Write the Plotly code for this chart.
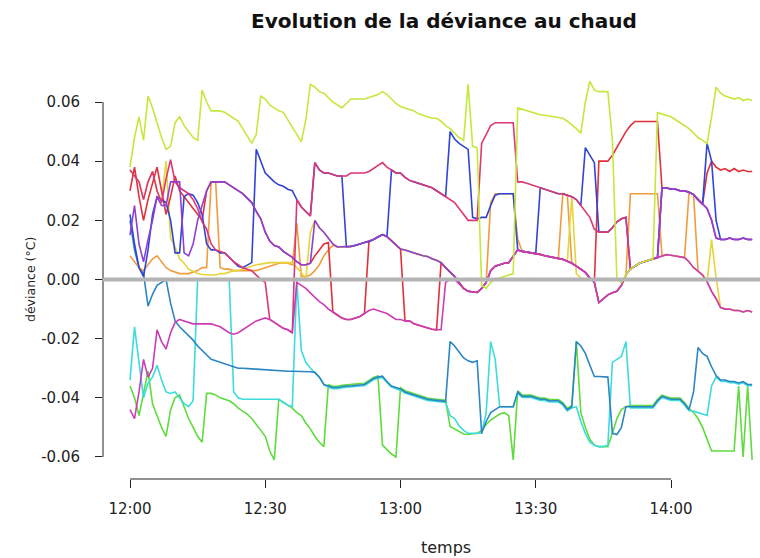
import plotly.graph_objects as go

# Sampling times: minutes after 12:00, one reading per minute
minutes = list(range(139))

# Deviation of each probe from the bath mean, in thousandths of a degree
yellowgreen = [38,48,55,47,62,58,53,48,44,45, 53,55,52,50,48,47,64,60,57,57,
               57,56.5,55.5,54.5,53.5,51,48.5,46,49,62, 61,59,58,57,56.5,54,51.5,49,46.5,54,
               66,65,63.5,63,61.5,60,59,58,59.5,61, 61,61,61,61.5,62,62.5,63.5,62.5,61,59.5,
               58.5,58,57.5,57,56,55.5,55,54.5,54.5,53.5, 52,51,49.5,48,47,66,45,44.5,-2,-3,
               -1,0,0.5,1,1.5,2,58,57.5,57,56.5, 56,55.7,55.5,55.3,55,54.8,54.5,53.5,52.4,51,
               49.5,60,67,64,63.5,63.5,63.5,47,0,-1, 1.5,3.5,4.5,5.5,6,6.5,7,56.4,56,55.5,
               55,54,53,52,51,49.5,48,47,46,55, 65,63,62,61.5,61,61.5,60.5,61,60.5]
rose = [37,35,33,27,33,36.5,30,26,34,40.5, 33,31,30,29,27,24,19.5,17,12,10,
        9.5,9,7.5,6,5,4,3.5,3,1.5,0, -1,-13.5,-14.5,-15.5,-16.5,-17,-18,27,24.5,23,
        21.5,39.5,37,36,36,35.5,35,35,35,36, 36,36,36,36.5,37.5,38.5,39.5,38,37,36,
        36,34.5,33.5,33,32.5,32,31.5,31,30,29, 28,27,26,24,22,20,20,20,46,49,
        52,53,53,53,53,53,33,33,32.5,32, 31.5,31,30.5,30,29.5,29,29,28.5,28,27,
        25,23,21,17,16,16,16,17.5,19.5,20.5, 21,3.5,4.5,5.5,6,6.5,7,7.4,31,31,
        30.5,30.5,30,30,29.5,28.7,27,25.5,24,20, 14,13.5,13.5,14,13.5,13.5,14,13.5,13.5]
blue = [22,12,4,1,10,22,28,27,26,20, 9,9,28,29,28.5,26,22,12,10,10,
        9,9,7.5,6,4.5,4,5,5.7,44,40, 36,34.5,33,32,31.5,30.5,30,27,24.5,23,
        21.5,39.5,37,36,36,35.5,35,35,11,11.2, 11.5,12,12.5,12.8,13.5,14.5,15.2,14.5,37,36,
        36,34.5,33.5,33,32.5,32,31.5,31,30,29, 28,50,47.5,46,45,44,21,20.5,21,21,
        25,28.5,29,29,29,29,10,9.5,9.3,9, 8.8,31,30.5,30,29.5,29,29,28.5,28,27,
        25,44.6,42,39.5,16,16,16,17.5,19.5,20.5, 21,3.5,4.5,5.5,6,6.5,7,7.4,31,31,
        30.5,30.5,30,30,29.5,28.7,27,25.5,46,40, 20,13.5,13.5,14,13.5,13.5,14,13.5,13.5]
purple = [15,25,12,6,13.5,20,28,25,25,33, 33,33,9,8,12,20,25,30,33,33,
          33,33,32,31,30,29,27.5,26,23,20.5, 16,13,11.5,11,9.5,8.5,7.5,6,5,5,
          5.5,20,17.5,16,14,12,11,11,11,11.2, 11.5,12,12.5,12.8,13.5,14.5,15.2,14.5,13,11.5,
          10.3,10,9.5,9,8.5,8,7.8,7,6.5,5.7, 4,2.5,1,-1,-3,-4,-4.2,-4.4,-3,-1,
          3,4.5,5,5.5,5.7,8,10,9.5,9.3,9, 8.8,8.5,8,7.7,7.4,7,6.8,6.2,5.5,4.5,
          3.5,2.4,0.5,-1,-7.8,-6.5,-5.2,-4.5,-4,-2, 1.5,3.5,4.5,5.5,6,6.5,7,7.4,31,31,
          30.5,30.5,30,30,29.5,28.7,27,25.5,24,20, 14,13.5,13.5,14,13.5,13.5,14,13.5,13.5]
magenta = [-44,-47,-38,-27,-33,-30,-17,-21,-23.5,-18, -14.5,-13.5,-14,-14.5,-15,-15,-15,-15,-15,-15.5,
           -16,-17,-18,-18.5,-18,-17,-16,-15,-14,-13.5, -13,-13.5,-14.5,-15.5,-16.5,-17,-18,-1,-2,-3,
           -4.5,-6,-7.5,-8.5,-10,-11,-12,-13,-13.5,-13.5, -13,-12.5,-11.5,-10.5,-10,-10.5,-10.8,-11.5,-12.5,-13.5,
           -13.5,-14,-14,-15,-15.5,-16,-16.5,-16.8,-17,-17, -1,0,0,-1.5,-3,-4,-4.2,-4.4,-3,-1,
           3,4.5,5,5.5,5.7,8,10,9.5,9.3,9, 8.8,8.5,8,7.7,7.4,7,6.8,6.2,5.5,4.5,
           3.5,2.4,0.5,-1,-7.8,-6.5,-5.2,-4.5,-4,-2, 1.5,3.5,4.5,5.5,6,6.5,7,7.4,8,8.4,
           8.2,8,7.6,7.4,6,4,2.8,1.5,-0.7,-4, -6.5,-9.5,-10,-10,-10.5,-10.5,-11,-10.5,-11]
orange = [8,6,4,3,5,7,8,6,4,3, 2.5,2,2,2,2.5,3,4,4,33,33,
          4,3.5,3.5,3,3,3,3,3,3,3.5, 4,4.5,5,5.5,5.7,5.5,5,19,1,1,
          1.5,3,5,8,10,11.5,11,11,11,11.2, 11.5,12,12.5,12.8,13.5,14.5,15.2,14.5,13,11.5,
          10.3,10,9.5,9,8.5,8,7.8,7,6.5,5.7, 4,2.5,1,-1,-3,-4,-4.2,-4.4,-3,-1,
          26,29,29,29,29,29,13.5,9.5,9.3,9, 8.8,8.5,8,7.7,7.4,7,29,28.5,5.5,4.5,
          3.5,2.4,0.5,-1,-7.8,-6.5,-5.2,-4.5,-4,-2, 1.5,29,29,29,29,29,29,29,8,8.4,
          8.2,8,7.6,7.4,29.5,28.7,2.8,1.5,-0.7,-4, -6.5,-9.5,-10,-10,-10.5,-10.5,-11,-10.5,-11]
yellow = [37,35,33,27,33,36.5,30,26,40,14, 11,7,5.5,3.5,2.7,2,1.7,1.5,1.5,1.5,
          2,2,2.5,3,3,3.5,4,4.5,5,5.2, 5.5,5.7,5.7,5.7,5.7,5.7,5.7,4,2.4,0,
          16,20,17.5,16,14,12,11,11,11,11.2, 11.5,12,12.5,12.8,13.5,14.5,15.2,14.5,13,11.5,
          10.3,10,9.5,9,8.5,8,7.8,7,6.5,5.7, 4,2.5,1,-1,-3,-4,-4.2,-4.4,-3,-1,
          3,4.5,5,5.5,5.7,8,10,9.5,9.3,9, 8.8,8.5,8,7.7,7.4,7,6.8,6.2,28,2,
          0.5,0,0.5,-1,-7.8,-6.5,-5.2,-4.5,-4,-2, 1.5,3.5,4.5,5.5,6,6.5,7,7.4,8,8.4,
          8.2,8,7.6,7.4,6,4,2.8,1.5,-0.7,13.5, 0.5,-9.5,-10,-10,-10.5,-10.5,-11,-10.5,-11]
red = [30,38,28,20,27,33,38,30,22,28, 35,30,28,26,24,22,20,30,33,33,
       33,33,32,31,30,29,27.5,26,23,20.5, 16,13,11.5,11,9.5,8.5,7.5,6,5,5,
       5.5,8,10,12,12.5,-11,-12,-13,-13.5,-13.5, -13,-12.5,-11.5,12.8,13.5,14.5,15.2,14.5,13,11.5,
       10.3,-14,-14,-15,-15.5,-16,-16.5,-16.8,-17,5.7, 4,2.5,1,-1,-3,-4,-4.2,-4.4,-3,-1,
       3,4.5,5,5.5,5.7,8,10,9.5,9.3,9, 8.8,8.5,8,7.7,7.4,7,6.8,6.2,5.5,4.5,
       3.5,2.4,0.5,-1,40,40,40,42,44.6,47, 50,52,53.4,53.4,53.4,53.4,53.4,53.4,31,31,
       30.5,30.5,30,30,29.5,28.7,27,25.5,36,40, 38,37,37.5,36.5,37.5,36.5,37,36.5,36.5]
azure = [20,10,4,2,-9,-5,-2,-1,0,-8, -14,-16,-17.5,-19,-20.5,-22.5,-24,-25.5,-27,-27.5,
         -28,-28.5,-29,-29.5,-30,-30,-30,-30.2,-30.3,-30.4, -30.5,-30.6,-30.8,-31,-31,-31,-31,-31,-31,-31,
         -31.2,-31.4,-33,-35.5,-36,-36.5,-36.5,-36.2,-36,-36, -35.8,-35.6,-35.5,-34.5,-33.5,-33,-32.7,-34.5,-36,-36.5,
         -37,-38,-38.5,-39,-39.5,-40,-40.5,-40.7,-40.8,-41, -41.2,-21,-22.5,-24.5,-26.5,-27.5,-28,-27.5,-52,-48,
         -45,-44,-43,-43,-43,-43,-38,-39.5,-39.5,-39.5, -40,-40.5,-40.5,-41,-41,-41,-42,-44,-43,-21,
         -22.5,-25,-29,-32.8,-32.8,-32.8,-33,-52,-52.4,-50, -43,-43,-43,-43,-43,-43,-43,-41,-39.5,-40,
         -40.5,-40.5,-40.5,-42,-44,-38,-23,-25,-26,-29.5, -32.5,-34,-34,-34.5,-34.5,-35,-34.5,-35.5,-35.5]
cyan = [-34,-16,-28,-40,-35,-33,-29,-34,-38,-38.5, -38,-40,-42,-43,-41,0,0,0,0,0,
        0,0,0,-38,-40,-40.5,-40.5,-40.5,-40.5,-40.5, -40.5,-40.5,-40.5,-40.5,-41.5,-42.5,-43,-0.5,-24,-28,
        -30,-31.5,-33,-35.5,-36.4,-36.9,-36.9,-36.6,-36.4,-36.4, -36.2,-36,-35.9,-34.9,-33.9,-33.4,-33.1,-34.9,-36.4,-36.9,
        -37.4,-38.4,-38.9,-39.4,-39.9,-40.4,-40.9,-41.1,-41.2,-41.4, -41.6,-46,-47,-49.5,-51,-52,-52,-52,-52,-45,
        -21,-27,-43,-43,-43,-43,-38.4,-39.9,-39.9,-39.9, -40.4,-40.9,-40.9,-41.4,-41.4,-41.4,-42.4,-44.4,-43.4,-43,
        -48,-52,-55,-56,-56.5,-56.5,-56,-28,-27,-26, -21,-43.4,-43.4,-43.4,-43.4,-43.4,-43.4,-41.4,-39.9,-40.4,
        -40.9,-40.9,-40.9,-42.4,-44.4,-44.5,-45,-45.5,-46,-36, -32.9,-34.4,-34.4,-34.9,-34.9,-35.4,-34.9,-35.9,-35.9]
green = [-36,-40,-46,-38,-31,-42,-46,-50,-53,-44, -40,-39,-43,-47,-50,-53,-55,-38.5,-38.5,-39,
         -40,-40.5,-41,-42,-43.5,-44.5,-45.5,-47,-49,-51, -53,-58,-61,-40.5,-41.5,-42.5,-43.5,-45,-46,-48.5,
         -50.5,-53,-55,-56.5,-35.6,-36.1,-36.1,-35.8,-35.6,-35.6, -35.4,-35.2,-35.1,-34.1,-33.1,-32.6,-56,-57.5,-59,-60,
         -36.6,-37.6,-38.1,-38.6,-39.1,-39.6,-40.1,-40.3,-40.4,-40.6, -40.8,-49.7,-50.5,-51.5,-52.2,-52.4,-52.2,-52,-51,-49,
         -47.5,-46.5,-45.5,-45,-46,-61,-37.6,-39.1,-39.1,-39.1, -39.6,-40.1,-40.1,-40.6,-40.6,-40.6,-41.6,-43.6,-42.6,-21,
         -45,-50,-54,-56,-56.5,-56.5,-56.5,-52,-47,-44, -43,-42.6,-42.6,-42.6,-42.6,-42.6,-42.6,-40.6,-39.1,-39.6,
         -40.1,-40.1,-40.1,-41.6,-43.6,-45,-47,-50,-54,-58, -58,-58,-58,-58,-58,-36,-60,-36,-61]

# Tick positions (minutes after 12:00) and their clock labels
time_ticks = [0, 30, 60, 90, 120]
time_labels = ["12:00", "12:30", "13:00", "13:30", "14:00"]
dev_ticks = [-0.06, -0.04, -0.02, 0.0, 0.02, 0.04, 0.06]
dev_labels = ["-0.06", "-0.04", "-0.02", "0.00", "0.02", "0.04", "0.06"]

# Drawing order: lower probes first, then the upper ones
probes = [
    ("vert", green, "#5edc3e"),
    ("cyan", cyan, "#3cdcdc"),
    ("azur", azure, "#2c86c4"),
    ("orange", orange, "#f09c3c"),
    ("jaune", yellow, "#e6d43a"),
    ("rouge", red, "#e2303a"),
    ("bleu", blue, "#3044d8"),
    ("rose", rose, "#de3676"),
    ("violet", purple, "#8e40d6"),
    ("magenta", magenta, "#cc3cb4"),
    ("vert-jaune", yellowgreen, "#c4e83c"),
]

fig = go.Figure()
for name, vals, color in probes:
    fig.add_trace(go.Scatter(
        x=minutes, y=[v / 1000 for v in vals], mode="lines", name=name,
        line=dict(color=color, width=1.6), showlegend=False, hoverinfo="skip"))

font_family = "DejaVu Sans"
axis_col = "#222222"

fig.update_layout(
    width=760, height=558,
    margin=dict(l=103, r=0, t=62, b=79),
    paper_bgcolor="white", plot_bgcolor="white",
    title=dict(text="<b>Evolution de la déviance au chaud</b>",
               x=444 / 760, xref="container", xanchor="center",
               y=1 - 21 / 558, yref="container", yanchor="middle",
               font=dict(family=font_family, size=20, color="#111111")),
    xaxis=dict(range=[-5.989, 139.74], showgrid=False, zeroline=False, showline=False,
               ticks="outside", ticklen=8, tickwidth=1, tickcolor=axis_col,
               tickvals=time_ticks, ticktext=time_labels, ticklabelstandoff=8,
               tickfont=dict(family=font_family, size=15, color="#222222")),
    yaxis=dict(range=[-0.06744, 0.07352], showgrid=False, zeroline=False, showline=False,
               ticks="outside", ticklen=7, tickwidth=1, tickcolor=axis_col,
               tickvals=dev_ticks, ticktext=dev_labels, ticklabelstandoff=12,
               tickfont=dict(family=font_family, size=15, color="#222222")),
    shapes=[
        # axis spines limited to the labelled span
        dict(type="line", xref="x", yref="paper", x0=0, x1=120, y0=0, y1=0,
             line=dict(color=axis_col, width=1)),
        dict(type="line", xref="paper", yref="y", x0=0, x1=0, y0=-0.06, y1=0.06,
             line=dict(color=axis_col, width=1)),
        # reference line at zero deviation
        dict(type="line", xref="paper", yref="y", x0=0, x1=1, y0=0, y1=0,
             line=dict(color="#b4b4b4", width=4), layer="above"),
    ],
    annotations=[
        dict(text="temps", xref="paper", yref="paper", x=(446 - 103) / 657, y=-68 / 417,
             xanchor="center", yanchor="middle", showarrow=False,
             font=dict(family=font_family, size=16, color="#222222")),
        dict(text="déviance (°C)", xref="paper", yref="paper", x=(30 - 103) / 657, y=(479 - 280) / 417,
             xanchor="center", yanchor="middle", textangle=-90, showarrow=False,
             font=dict(family=font_family, size=12.5, color="#222222")),
    ],
)

fig.write_html("out.html")
